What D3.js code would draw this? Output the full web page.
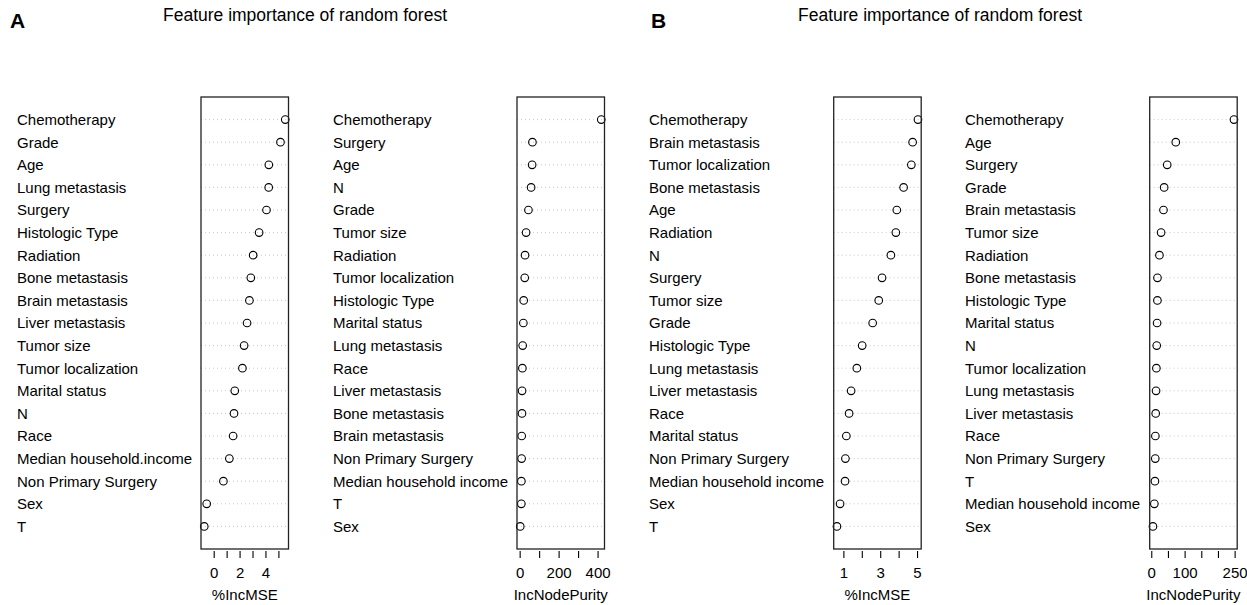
<!DOCTYPE html>
<html>
<head>
<meta charset="utf-8">
<script src="https://cdn.jsdelivr.net/npm/d3@7"></script>
<style>
  body { margin: 0; background: #fff; }
  svg { display: block; font-family: "Liberation Sans", Arial, sans-serif; }
</style>
</head>
<body>
<svg id="chart" width="1247" height="605"></svg>
<script>
// ---------- DATA ----------
const titleText = "Feature importance of random forest";

const a1Labels = ["Chemotherapy","Grade","Age","Lung metastasis","Surgery","Histologic Type","Radiation","Bone metastasis","Brain metastasis","Liver metastasis","Tumor size","Tumor localization","Marital status","N","Race","Median household.income","Non Primary Surgery","Sex","T"];
const a1Values = [5.53,5.16,4.26,4.25,4.08,3.51,3.05,2.87,2.76,2.58,2.35,2.22,1.63,1.57,1.50,1.21,0.75,-0.54,-0.73];
const a1Ticks = [0,1,2,3,4,5];
const a1TickLabels = [0,2,4];

const a2Labels = ["Chemotherapy","Surgery","Age","N","Grade","Tumor size","Radiation","Tumor localization","Histologic Type","Marital status","Lung metastasis","Race","Liver metastasis","Bone metastasis","Brain metastasis","Non Primary Surgery","Median household income","T","Sex"];
const a2Values = [419,65.6,64,58.8,45,33,27.6,26,20.7,19,15.5,14,12.4,12,10.5,10,8.8,8.5,3];
const a2Ticks = [0,100,200,300,400];
const a2TickLabels = [0,200,400];

const b1Labels = ["Chemotherapy","Brain metastasis","Tumor localization","Bone metastasis","Age","Radiation","N","Surgery","Tumor size","Grade","Histologic Type","Lung metastasis","Liver metastasis","Race","Marital status","Non Primary Surgery","Median household income","Sex","T"];
const b1Values = [5.05,4.76,4.69,4.27,3.90,3.85,3.58,3.10,2.92,2.59,2.02,1.73,1.42,1.31,1.16,1.11,1.09,0.82,0.65];
const b1Ticks = [1,2,3,4,5];
const b1TickLabels = [1,3,5];

const b2Labels = ["Chemotherapy","Age","Surgery","Grade","Brain metastasis","Tumor size","Radiation","Bone metastasis","Histologic Type","Marital status","N","Tumor localization","Lung metastasis","Liver metastasis","Race","Non Primary Surgery","T","Median household income","Sex"];
const b2Values = [248,73.5,47.8,38.6,36.6,29.4,24.5,18.5,18.4,17.4,16.3,15.3,14.3,13.3,12.3,12,11,9.2,5];
const b2Ticks = [0,50,100,150,200,250];
const b2TickLabels = [0,100,250];

const xTitles = ["%IncMSE","IncNodePurity","%IncMSE","IncNodePurity"];
const panelLetters = ["A","B"];

// ---------- LAYOUT ----------
const svg = d3.select("#chart");
const boxTop = 97, boxBottom = 549, boxW = 87.5;
const panels = [
  {labels: a1Labels, values: a1Values, ticks: a1Ticks, tickLabels: a1TickLabels, labelX: 17,  boxX: 201,   xTitle: xTitles[0]},
  {labels: a2Labels, values: a2Values, ticks: a2Ticks, tickLabels: a2TickLabels, labelX: 333, boxX: 517,   xTitle: xTitles[1]},
  {labels: b1Labels, values: b1Values, ticks: b1Ticks, tickLabels: b1TickLabels, labelX: 649, boxX: 833.7, xTitle: xTitles[2]},
  {labels: b2Labels, values: b2Values, ticks: b2Ticks, tickLabels: b2TickLabels, labelX: 965, boxX: 1149.7, xTitle: xTitles[3]}
];

panels.forEach(p => {
  const g = svg.append("g");
  const ext = d3.extent(p.values);
  const pad = (ext[1] - ext[0]) * 0.04;
  const x = d3.scaleLinear().domain([ext[0] - pad, ext[1] + pad]).range([p.boxX, p.boxX + boxW]);
  const y = d3.scalePoint().domain(p.labels).range([boxTop, boxBottom]).padding(1);

  // dotted guide lines
  g.selectAll("line.guide").data(p.labels).join("line")
    .attr("class", "guide")
    .attr("x1", p.boxX).attr("x2", p.boxX + boxW)
    .attr("y1", d => y(d)).attr("y2", d => y(d))
    .attr("stroke", "#c8c8c8").attr("stroke-width", 1)
    .attr("stroke-dasharray", "1,3");

  // labels
  g.selectAll("text.lab").data(p.labels).join("text")
    .attr("class", "lab")
    .attr("x", p.labelX).attr("y", d => y(d))
    .attr("dy", "0.36em")
    .attr("font-size", 15)
    .attr("fill", "#000")
    .text(d => d);

  // points
  g.selectAll("circle").data(p.values).join("circle")
    .attr("cx", d => x(d)).attr("cy", (d, i) => y(p.labels[i]))
    .attr("r", 3.8)
    .attr("fill", "none").attr("stroke", "#000").attr("stroke-width", 1.1);

  // box
  g.append("rect")
    .attr("x", p.boxX).attr("y", boxTop)
    .attr("width", boxW).attr("height", boxBottom - boxTop)
    .attr("fill", "none").attr("stroke", "#222").attr("stroke-width", 1.3);

  // axis
  const axis = d3.axisBottom(x).tickValues(p.ticks).tickSize(7).tickPadding(9)
    .tickFormat(d => p.tickLabels.includes(d) ? d3.format("d")(d) : "");
  const ag = g.append("g").attr("transform", `translate(0,${boxBottom + 2})`).call(axis);
  ag.select(".domain").remove();
  ag.selectAll(".tick line").attr("stroke", "#000").attr("stroke-width", 1.1);
  ag.selectAll(".tick text").attr("font-size", 15).attr("fill", "#000")
    .attr("font-family", "Liberation Sans, Arial, sans-serif");

  // axis title
  g.append("text")
    .attr("x", p.boxX + boxW / 2).attr("y", 600)
    .attr("text-anchor", "middle").attr("font-size", 15).attr("fill", "#000")
    .text(p.xTitle);
});

// titles and letters
[305, 940].forEach((cx, i) => {
  svg.append("text").attr("x", cx).attr("y", 21)
    .attr("text-anchor", "middle").attr("font-size", 17.5).attr("fill", "#000")
    .text(titleText);
});
[10, 651].forEach((lx, i) => {
  svg.append("text").attr("x", lx).attr("y", 28)
    .attr("font-size", 21).attr("font-weight", "bold").attr("fill", "#000")
    .text(panelLetters[i]);
});
</script>
</body>
</html>
